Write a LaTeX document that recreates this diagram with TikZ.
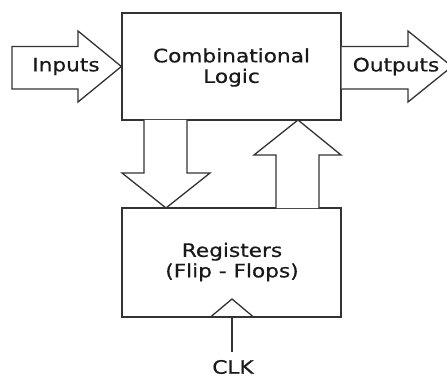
\documentclass[tikz,border=0pt]{standalone}
\usepackage{fontspec}
\newfontfamily\dv[FakeStretch=1.17,FakeBold=0.6]{DejaVu Sans}
\begin{document}
\begin{tikzpicture}[x=1pt,y=-1pt,
  box/.style={draw=black!80,line width=1.3pt,inner sep=0pt},
  blk/.style={draw=black!80,line width=1.3pt,line join=miter,fill=white},
  lbl/.style={font=\dv\fontsize{18.5}{20.5}\selectfont,text=black!90,align=center,inner sep=0pt}]
\useasboundingbox (0,0) rectangle (447,377);
\node[box,minimum width=219pt,minimum height=107pt] (cl) at (231.5,66.5) {};
\node[box,minimum width=219pt,minimum height=109pt] (reg) at (231.5,262.5) {};
% Inputs arrow
\draw[blk] (12,46.5) -- (78,46.5) -- (78,31) -- (cl.west) -- (78,102) -- (78,89) -- (12,89) -- cycle;
% Outputs arrow
\draw[blk] (cl.east |- 0,46.5) -- (408,46.5) -- (408,31) -- (452,66.5) -- (408,102) -- (408,89) -- (cl.east |- 0,89);
% Down arrow
\draw[blk] (144,120) -- (144,173) -- (122,173) -- (166,208) -- (210,173) -- (187,173) -- (187,120);
% Up arrow
\draw[blk] (276,208) -- (276,155) -- (254,155) -- (298,120) -- (341,155) -- (319,155) -- (319,208);
% clock triangle
\draw[draw=black!80,line width=1.3pt] (210.5,317) -- (232,299) -- (253.5,317);
\coordinate (clk) at (232,352);
\draw[draw=black!80,line width=1.3pt] (clk) -- (232,317);
\node[lbl] at (233,367) {CLK};
\node[lbl] at (66,66.5) {Inputs};
\node[lbl] at (396,66.5) {Outputs};
\node[lbl] at (cl.center) [yshift=-1pt] {Combinational\\Logic};
\node[lbl] at (232,262) {Registers\\(Flip - Flops)};
\end{tikzpicture}
\end{document}
